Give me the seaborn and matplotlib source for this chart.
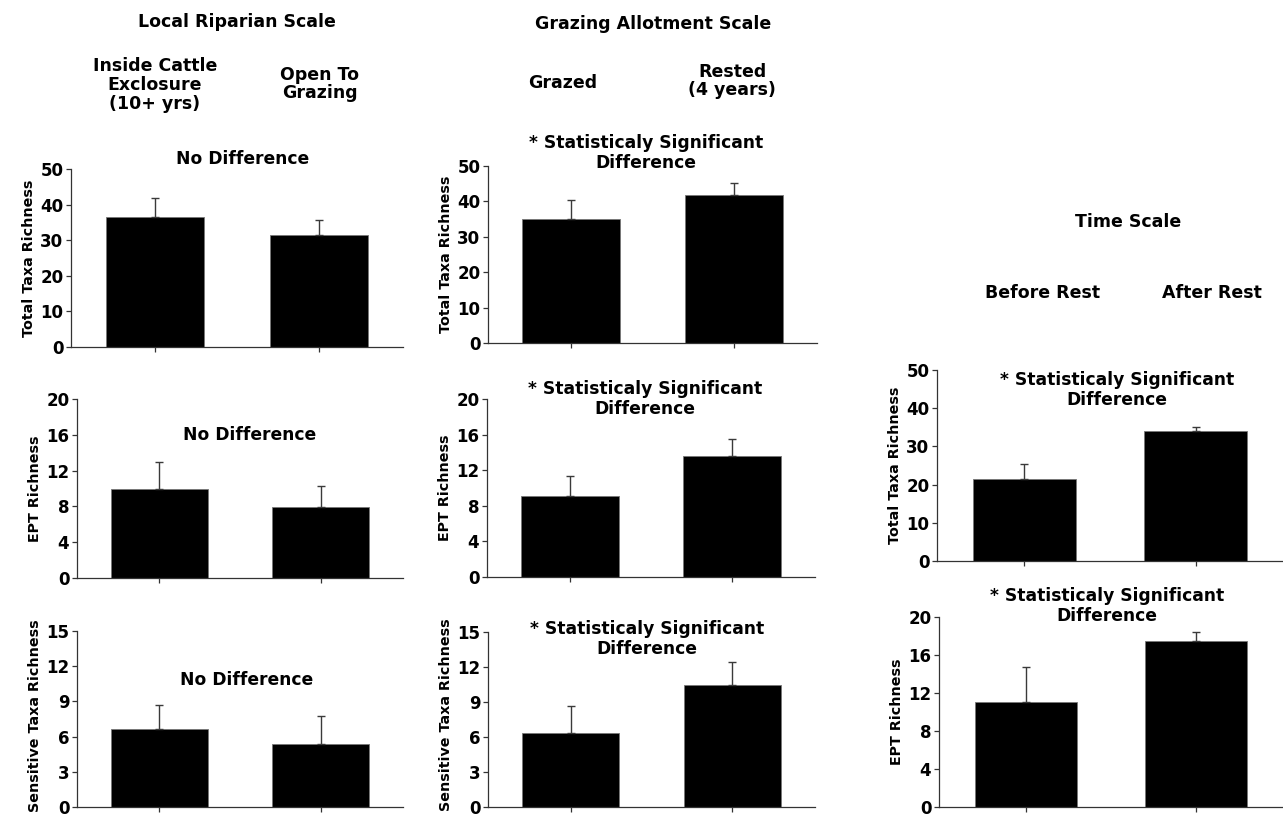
import matplotlib
matplotlib.use("Agg")
import matplotlib.pyplot as plt
import seaborn as sns
import numpy as np
import pandas as pd

# ---------------- data ----------------
local_groups = ["Inside Cattle\nExclosure\n(10+ yrs)", "Open To\nGrazing"]
allot_groups = ["Grazed", "Rested\n(4 years)"]
time_groups = ["Before Rest", "After Rest"]

local_total = [36.6, 31.5]
local_total_err = [5.3, 4.2]
local_ept = [9.9, 7.9]
local_ept_err = [3.1, 2.4]
local_sens = [6.65, 5.35]
local_sens_err = [2.05, 2.4]

allot_total = [35.0, 41.7]
allot_total_err = [5.3, 3.5]
allot_ept = [9.1, 13.55]
allot_ept_err = [2.3, 1.95]
allot_sens = [6.35, 10.45]
allot_sens_err = [2.3, 2.0]

time_total = [21.4, 34.0]
time_total_err = [4.0, 1.1]
time_ept = [11.1, 17.5]
time_ept_err = [3.6, 0.9]

ticks_total = [0, 10, 20, 30, 40, 50]
ticks_ept = [0, 4, 8, 12, 16, 20]
ticks_sens = [0, 3, 6, 9, 12, 15]

no_diff = "No Difference"
sig_diff = "* Statisticaly Significant\nDifference"

# ---------------- style ----------------
sns.set_theme(style="ticks")
plt.rcParams["font.family"] = ["DejaVu Sans"]
plt.rcParams["font.weight"] = "bold"
for k in ["text.color", "axes.labelcolor", "xtick.color", "ytick.color"]:
    plt.rcParams[k] = "black"

W, H = 1283, 816
fig = plt.figure(figsize=(W / 100, H / 100), dpi=100)
fig.patch.set_facecolor("white")


def px_rect(x0, x1, ytop, ybot):
    return [x0 / W, 1 - ybot / H, (x1 - x0) / W, (ybot - ytop) / H]


panels = [
    ((71, 403, 169, 347), local_groups, local_total, local_total_err, ticks_total,
     "Total Taxa Richness", no_diff, (243, 159), 0.5),
    ((488, 817, 166, 343), allot_groups, allot_total, allot_total_err, ticks_total,
     "Total Taxa Richness", sig_diff, (646, 153), 0.5),
    ((77, 403, 399, 578), local_groups, local_ept, local_ept_err, ticks_ept,
     "EPT Richness", no_diff, (250, 435), 0.5),
    ((487, 815, 399, 577), allot_groups, allot_ept, allot_ept_err, ticks_ept,
     "EPT Richness", sig_diff, (645, 399), 0.5),
    ((77, 403, 631, 807), local_groups, local_sens, local_sens_err, ticks_sens,
     "Sensitive Taxa Richness", no_diff, (247, 680), 0.52),
    ((488, 815, 632, 807), allot_groups, allot_sens, allot_sens_err, ticks_sens,
     "Sensitive Taxa Richness", sig_diff, (647, 639), 0.53),
    ((937, 1283, 370, 561), time_groups, time_total, time_total_err, ticks_total,
     "Total Taxa Richness", sig_diff, (1117, 390), 0.5),
    ((939, 1283, 617, 807), time_groups, time_ept, time_ept_err, ticks_ept,
     "EPT Richness", sig_diff, (1107, 606), 0.5),
]

for rect, groups, vals, errs, yt, ylab, ttl, tpos, label_y in panels:
    ax = fig.add_axes(px_rect(*rect))
    df = pd.DataFrame({"group": groups, "value": vals})
    sns.barplot(data=df, x="group", y="value", order=groups, ax=ax,
                color="black", saturation=1, width=0.6, errorbar=None,
                edgecolor="#777777", linewidth=0.6)
    xs = np.arange(len(groups))
    ax.errorbar(xs, vals, yerr=[np.zeros(len(errs)), errs], fmt="none",
                ecolor="#3a3a3a", elinewidth=1.0, capsize=3, capthick=1.0,
                zorder=1)
    ax.set_xlim(-0.51, 1.51)
    ax.set_ylim(yt[0], yt[-1])
    ax.set_yticks(yt)
    ax.set_yticklabels([str(t) for t in yt], fontsize=12, fontweight="bold")
    ax.set_xticks(xs)
    ax.set_xticklabels(["", ""])
    ax.set_xlabel("")
    ax.set_ylabel(ylab, fontsize=10.3, fontweight="bold", labelpad=3)
    ax.yaxis.label.set_y(label_y)
    ax.tick_params(axis="both", direction="out", length=3.5, width=0.9,
                   color="#333333", pad=2)
    for s in ["top", "right"]:
        ax.spines[s].set_visible(False)
    for s in ["left", "bottom"]:
        ax.spines[s].set_color("#333333")
        ax.spines[s].set_linewidth(0.9)
    ax.set_facecolor("white")
    fig.text(tpos[0] / W, 1 - tpos[1] / H, ttl, ha="center", va="center",
             fontsize=12.3, fontweight="bold", linespacing=1.1)

# ---------------- headers ----------------
hdr = dict(ha="center", va="center", fontsize=12.5, fontweight="bold", linespacing=1.05)
fig.text(237 / W, 1 - 22 / H, "Local Riparian Scale", **hdr)
fig.text(653 / W, 1 - 24 / H, "Grazing Allotment Scale", **hdr)
fig.text(1128 / W, 1 - 222 / H, "Time Scale", **hdr)

fig.text(155 / W, 1 - 85 / H, local_groups[0], **hdr)
fig.text(320 / W, 1 - 84 / H, local_groups[1], **hdr)
fig.text(563 / W, 1 - 83 / H, allot_groups[0], **hdr)
fig.text(732 / W, 1 - 81 / H, allot_groups[1], **hdr)
fig.text(1043 / W, 1 - 293 / H, time_groups[0], **hdr)
fig.text(1212 / W, 1 - 293 / H, time_groups[1], **hdr)

fig.savefig("out.png", dpi=100, facecolor="white")
